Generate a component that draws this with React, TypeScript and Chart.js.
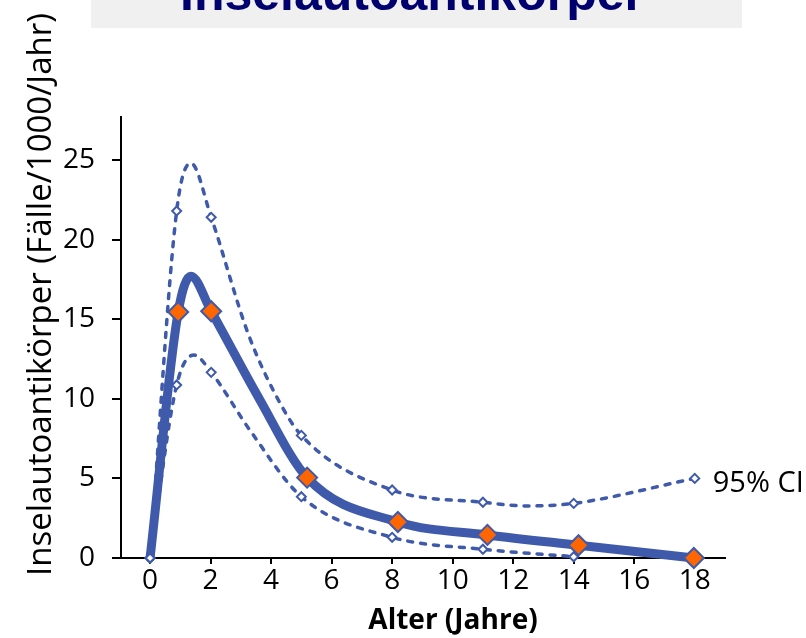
import React, { useEffect, useRef } from "react";
import { Chart, registerables } from "chart.js";

Chart.register(...registerables);

const FONT = "'Open Sans', 'Noto Sans', sans-serif";
const BLUE = "#3F5AAA";
const ORANGE = "#FF6600";

const titleText = "Inselautoantikörper";
const yTitleText = "Inselautoantikörper (Fälle/1000/Jahr)";
const xTitleText = "Alter (Jahre)";
const ciLabel = "95% CI";

const xTicks = [0, 2, 4, 6, 8, 10, 12, 14, 16, 18];
const yTicks = [0, 5, 10, 15, 20, 25];

// Estimate: orange markers
const estAge = [0.93, 2.02, 5.19, 8.19, 11.15, 14.16, 17.97];
const estRate = [15.45, 15.5, 5.05, 2.26, 1.45, 0.8, 0];
// Estimate: smooth curve
const estCurveAge = [0, 0.93, 1.35, 2.02, 3.58, 5.19, 8.19, 11.15, 14.16, 17.97];
const estCurveRate = [0, 15.45, 17.7, 15.5, 10.1, 5.05, 2.26, 1.45, 0.8, 0];

// Upper 95% CI: markers
const upAge = [0, 0.88, 2.02, 5.0, 8.0, 11.0, 14.0, 18.0];
const upRate = [0, 21.8, 21.4, 7.7, 4.27, 3.5, 3.43, 5.0];
// Upper 95% CI: curve
const upCurveAge = [0, 0.88, 1.35, 2.02, 3.24, 4.19, 5.0, 8.0, 11.0, 12.5, 14.0, 18.0];
const upCurveRate = [0, 21.8, 24.8, 21.4, 14.1, 10.1, 7.7, 4.27, 3.5, 3.27, 3.43, 5.0];

// Lower 95% CI: markers
const loAge = [0, 0.88, 2.02, 5.0, 8.0, 11.0, 14.0];
const loRate = [0, 10.87, 11.66, 3.85, 1.3, 0.55, 0.08];
// Lower 95% CI: curve
const loCurveAge = [0, 0.88, 1.45, 2.02, 3.31, 5.0, 8.0, 11.0, 14.0];
const loCurveRate = [0, 10.87, 12.75, 11.66, 8.0, 3.85, 1.3, 0.55, 0.08];

const pts = (xs: number[], ys: number[]) => xs.map((x, i) => ({ x, y: ys[i] }));

export default function App() {
  const ref = useRef<HTMLCanvasElement>(null);

  useEffect(() => {
    if (!ref.current) return;

    const textPlugin = {
      id: "texts",
      afterDraw(chart: any) {
        const { ctx } = chart;
        const xs = chart.scales.x;
        const ys = chart.scales.y;
        ctx.save();
        ctx.fillStyle = "#000";
        // x-axis title
        ctx.font = `bold 28px ${FONT}`;
        ctx.textAlign = "center";
        ctx.textBaseline = "alphabetic";
        ctx.fillText(xTitleText, 453, 629);
        // y-axis title
        ctx.save();
        ctx.translate(51, 294.5);
        ctx.rotate(-Math.PI / 2);
        ctx.font = `33px ${FONT}`;
        ctx.textAlign = "center";
        ctx.textBaseline = "alphabetic";
        ctx.fillText(yTitleText, 0, 0);
        ctx.restore();
        // 95% CI label next to last upper point
        const lx = xs.getPixelForValue(upAge[upAge.length - 1]) + 18;
        const ly = ys.getPixelForValue(upRate[upRate.length - 1]) + 14;
        ctx.font = `29px ${FONT}`;
        ctx.textAlign = "left";
        ctx.fillText(ciLabel, lx, ly);
        ctx.restore();
      },
    };

    const dashed = {
      showLine: true,
      borderColor: BLUE,
      borderWidth: 3.5,
      borderDash: [5, 8],
      borderCapStyle: "round",
      pointRadius: 0,
      cubicInterpolationMode: "monotone",
      order: 5,
      clip: false,
    };
    const hollow = {
      showLine: false,
      pointStyle: "rectRot",
      pointRadius: 4.5,
      pointBackgroundColor: "#fff",
      pointBorderColor: BLUE,
      pointBorderWidth: 2,
      order: 3,
      clip: false,
    };

    const chart = new Chart(ref.current, {
      type: "scatter",
      data: {
        datasets: [
          { ...dashed, label: "lower", data: pts(loCurveAge, loCurveRate) },
          { ...dashed, label: "upper", data: pts(upCurveAge, upCurveRate) },
          {
            label: "main",
            data: pts(estCurveAge, estCurveRate),
            showLine: true,
            borderColor: BLUE,
            borderWidth: 9,
            borderCapStyle: "round",
            borderJoinStyle: "round",
            pointRadius: 0,
            cubicInterpolationMode: "monotone",
            order: 4,
            clip: false,
          },
          { ...hollow, label: "upperM", data: pts(upAge, upRate) },
          { ...hollow, label: "lowerM", data: pts(loAge, loRate) },
          {
            label: "mainM",
            data: pts(estAge, estRate),
            showLine: false,
            pointStyle: "rectRot",
            pointRadius: 10,
            pointBackgroundColor: ORANGE,
            pointBorderColor: BLUE,
            pointBorderWidth: 2,
            order: 2,
            clip: false,
          },
        ] as any,
      },
      options: {
        responsive: false,
        animation: false,
        devicePixelRatio: 1,
        layout: { padding: { left: 0, top: 117, right: 81, bottom: 0 } },
        plugins: {
          legend: { display: false },
          tooltip: { enabled: false },
          title: { display: false },
        },
        scales: {
          x: {
            type: "linear",
            min: -0.96,
            max: 19,
            afterBuildTicks: (s: any) => {
              s.ticks = xTicks.map((v) => ({ value: v }));
            },
            afterFit: (s: any) => {
              s.height = 80;
            },
            ticks: {
              font: { family: FONT, size: 28 },
              color: "#000",
              padding: 0,
              maxRotation: 0,
              autoSkip: false,
            },
            grid: {
              drawOnChartArea: false,
              drawTicks: true,
              tickLength: 6,
              color: "#000",
              lineWidth: 2,
            },
            border: { display: true, color: "#000", width: 2 },
          },
          y: {
            type: "linear",
            min: 0,
            max: 27.7,
            afterBuildTicks: (s: any) => {
              s.ticks = yTicks.map((v) => ({ value: v }));
            },
            afterFit: (s: any) => {
              s.width = 121;
            },
            ticks: {
              font: { family: FONT, size: 28 },
              color: "#000",
              padding: 17,
              autoSkip: false,
            },
            grid: {
              drawOnChartArea: false,
              drawTicks: true,
              tickLength: 9,
              color: "#000",
              lineWidth: 2,
            },
            border: { display: true, color: "#000", width: 2 },
          },
        },
      } as any,
      plugins: [textPlugin],
    });

    return () => chart.destroy();
  }, []);

  return (
    <div style={{ position: "absolute", left: 0, top: 0, width: 806, height: 638, background: "#fff", overflow: "hidden" }}>
      <canvas ref={ref} width={806} height={638} style={{ position: "absolute", left: 0, top: 0 }} />
      <div
        style={{
          position: "absolute",
          left: 91,
          top: 0,
          width: 651,
          height: 28,
          background: "#F0F0F0",
          overflow: "hidden",
        }}
      >
        <div
          style={{
            position: "absolute",
            left: 89,
            top: -32,
            font: "bold 50px 'Liberation Sans', Arial, sans-serif",
            lineHeight: "50px",
            color: "#00006E",
            whiteSpace: "nowrap",
          }}
        >
          {titleText}
        </div>
      </div>
    </div>
  );
}
